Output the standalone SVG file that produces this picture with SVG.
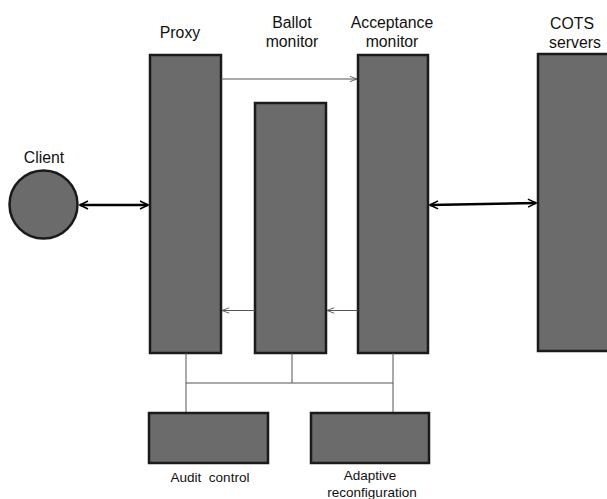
<svg xmlns="http://www.w3.org/2000/svg" width="607" height="499" viewBox="0 0 607 499">
<defs>
<style>
.box{fill:#6b6b6b;stroke:#1a1a1a;stroke-width:2.5}
.lbl{font-family:"Liberation Sans",Arial,sans-serif;font-size:15.8px;fill:#111;text-anchor:middle}
.sm{font-family:"Liberation Sans",Arial,sans-serif;font-size:13.5px;fill:#111;text-anchor:middle}
.thick{stroke:#000;stroke-width:2.5;fill:none}
.thin{stroke:#555;stroke-width:1;fill:none}
</style>
<marker id="bigS" viewBox="0 0 10 10" refX="9" refY="5" markerWidth="4" markerHeight="4" orient="auto-start-reverse" markerUnits="strokeWidth">
<path d="M1,1 L9,5 L1,9" fill="none" stroke="#000" stroke-width="1.6"/>
</marker>
<marker id="sm" viewBox="0 0 10 10" refX="9" refY="5" markerWidth="9" markerHeight="9" orient="auto" markerUnits="strokeWidth">
<path d="M1,2 L9,5 L1,8" fill="none" stroke="#555" stroke-width="1"/>
</marker>
</defs>
<rect width="607" height="499" fill="#fff"/>
<g id="client"><circle class="box" cx="43.5" cy="204.5" r="34"/><text class="lbl" x="44" y="163" font-size="17">Client</text></g>
<g id="proxy"><rect class="box" x="150" y="55" width="71" height="298"/><text class="lbl" x="180" y="38">Proxy</text></g>
<g id="ballot"><rect class="box" x="255" y="103" width="71" height="250"/><text class="lbl" x="292" y="28">Ballot</text><text class="lbl" x="292" y="47">monitor</text></g>
<g id="acceptance"><rect class="box" x="358" y="55" width="70" height="298"/><text class="lbl" x="392" y="28">Acceptance</text><text class="lbl" x="392" y="47">monitor</text></g>
<g id="cots"><rect class="box" x="538" y="54" width="75" height="297"/><text class="lbl" x="572" y="29">COTS</text><text class="lbl" x="575" y="48">servers</text></g>
<g id="audit"><rect class="box" x="149" y="413" width="119" height="50"/><text class="sm" x="210" y="482" xml:space="preserve">Audit  control</text></g>
<g id="adaptive"><rect class="box" x="311" y="413" width="118" height="50"/><text class="sm" x="370" y="480">Adaptive</text><text class="sm" x="372" y="497">reconfiguration</text></g>
<g id="connectors">
<line class="thick" x1="80" y1="205" x2="148" y2="205" marker-start="url(#bigS)" marker-end="url(#bigS)"/>
<line class="thick" x1="430" y1="205" x2="536" y2="203" marker-start="url(#bigS)" marker-end="url(#bigS)"/>
<line class="thin" x1="221" y1="79" x2="357" y2="79" marker-end="url(#sm)"/>
<line class="thin" x1="255" y1="310.5" x2="222" y2="310.5" marker-end="url(#sm)"/>
<line class="thin" x1="358" y1="310.5" x2="327" y2="310.5" marker-end="url(#sm)"/>
<line class="thin" x1="186" y1="353" x2="186" y2="412"/>
<line class="thin" x1="292" y1="353" x2="292" y2="383"/>
<line class="thin" x1="393" y1="353" x2="393" y2="412"/>
<line class="thin" x1="186" y1="383" x2="393" y2="383"/>
</g>
</svg>
